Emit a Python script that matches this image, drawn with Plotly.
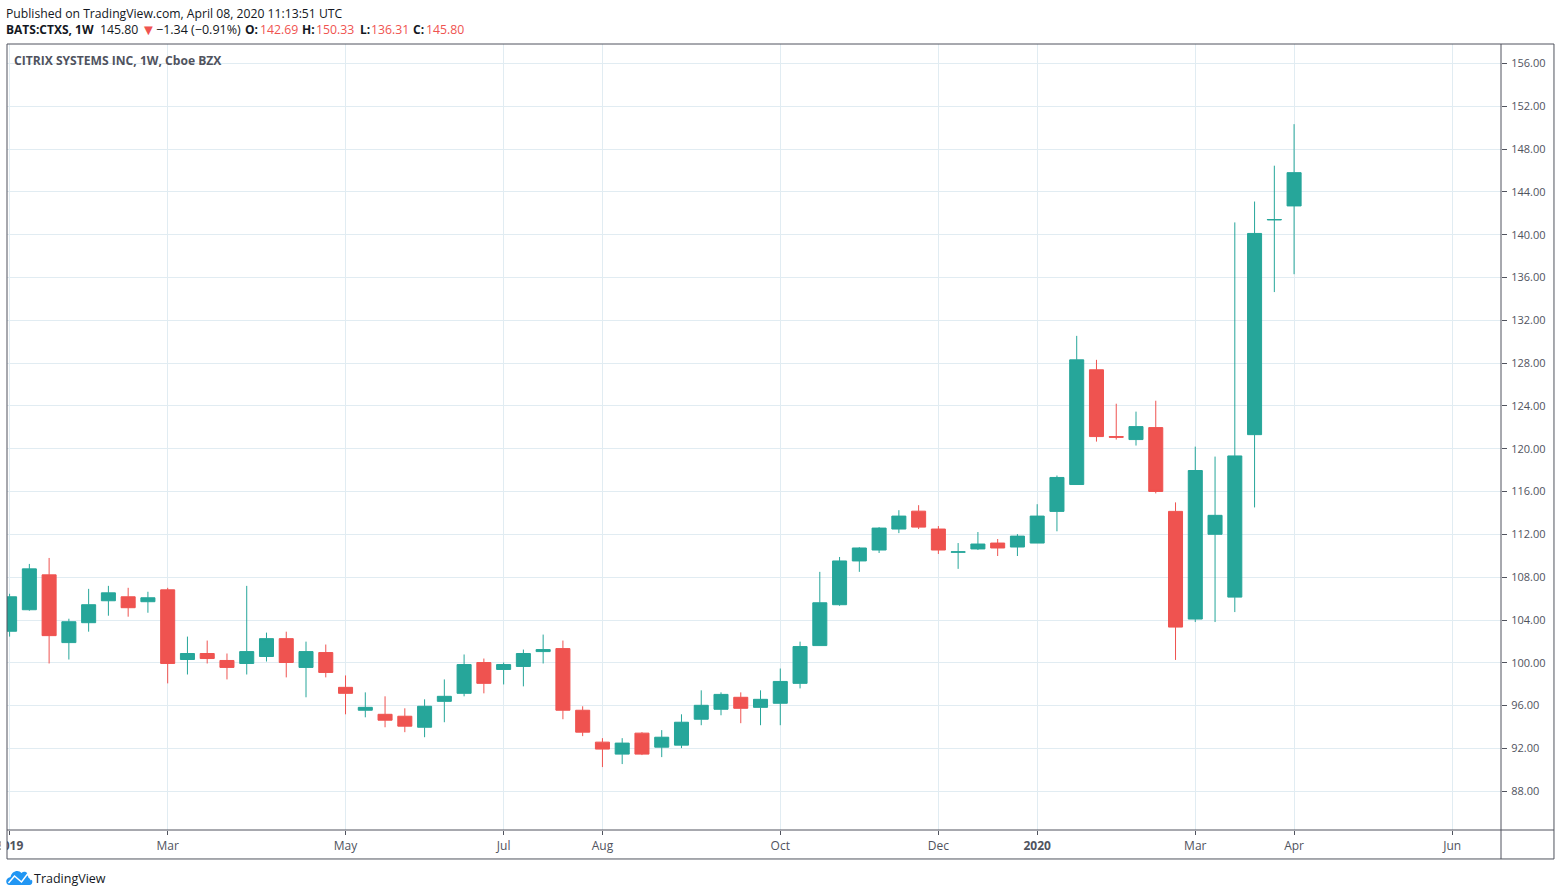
import pandas as pd
import plotly.graph_objects as go

# weekly CTXS candles
weeks = pd.date_range("2019-01-07", periods=66, freq="7D")
opens = [102.95, 104.96, 108.22, 101.89, 103.75, 105.80, 106.17, 105.71, 106.82, 100.31,
         100.87, 100.22, 99.94, 100.59, 102.26, 99.57, 100.96, 97.71, 95.57, 95.19,
         95.01, 93.98, 96.40, 97.15, 100.03, 99.38, 99.66, 101.05, 101.33, 95.57,
         92.59, 91.47, 93.43, 92.12, 92.31, 94.73, 95.66, 96.78, 95.84, 96.22,
         98.08, 101.61, 105.43, 109.52, 110.54, 112.50, 114.17, 112.50, 110.33, 110.64,
         111.19, 110.82, 111.19, 114.15, 116.66, 127.38, 121.14, 120.86, 121.98, 114.15,
         104.09, 112.01, 106.14, 121.32, 141.38, 142.69]
highs = [106.45, 109.24, 109.80, 104.12, 106.91, 107.19, 107.01, 106.64, 107.01, 102.45,
         102.08, 100.87, 107.19, 102.82, 102.91, 101.98, 101.71, 98.82, 97.24, 96.87,
         95.75, 96.59, 98.45, 100.78, 100.40, 100.03, 101.24, 102.64, 102.08, 95.94,
         92.96, 92.96, 93.52, 93.71, 95.19, 97.43, 97.24, 97.24, 97.43, 99.47,
         101.98, 108.50, 109.89, 110.80, 112.68, 114.26, 114.73, 112.78, 111.19, 112.22,
         111.57, 112.03, 114.82, 117.50, 130.55, 128.31, 124.21, 123.47, 124.49, 114.99,
         120.20, 119.27, 141.15, 143.10, 146.45, 150.33]
lows = [102.45, 104.87, 99.94, 100.31, 102.91, 104.40, 104.31, 104.68, 98.08, 98.91,
        99.94, 98.45, 98.91, 100.12, 98.64, 96.78, 98.64, 95.19, 94.91, 93.98,
        93.52, 93.05, 94.45, 96.87, 97.15, 97.98, 97.80, 99.94, 94.73, 93.15,
        90.26, 90.54, 91.38, 91.19, 92.03, 94.17, 95.10, 94.36, 94.17, 94.17,
        97.61, 101.61, 105.33, 108.50, 110.26, 112.12, 112.50, 110.17, 108.78, 110.54,
        109.98, 109.98, 111.19, 112.29, 116.66, 120.67, 120.86, 120.30, 115.83, 100.27,
        103.81, 103.81, 104.74, 114.52, 134.64, 136.31]
closes = [106.17, 108.78, 102.54, 103.84, 105.43, 106.54, 105.15, 106.08, 99.94, 100.87,
          100.40, 99.57, 101.05, 102.26, 100.03, 101.05, 99.10, 97.15, 95.84, 94.64,
          94.08, 95.94, 96.87, 99.84, 98.08, 99.84, 100.87, 101.24, 95.57, 93.52,
          91.94, 92.50, 91.47, 93.05, 94.45, 96.03, 97.05, 95.75, 96.59, 98.26,
          101.52, 105.61, 109.52, 110.73, 112.59, 113.71, 112.68, 110.54, 110.37, 111.10,
          110.73, 111.84, 113.71, 117.32, 128.31, 121.14, 121.08, 122.07, 116.01, 103.34,
          117.97, 113.78, 119.33, 140.12, 141.42, 145.80]

tick_dates = ["2019-01-07", "2019-03-04", "2019-05-06", "2019-07-01", "2019-08-05", "2019-10-07",
              "2019-12-02", "2020-01-06", "2020-03-02", "2020-04-06", "2020-06-01"]
tick_names = ["<b>2019</b>", "Mar", "May", "Jul", "Aug", "Oct", "Dec", "<b>2020</b>", "Mar", "Apr", "Jun"]
price_ticks = list(range(88, 157, 4))

W, H = 1560, 896
L, R, T, B = 6.5, 1501, 43.5, 830
GREEN = "#26a69a"
RED = "#ef5350"
FRAME = "#50535e"
GRID = "#e1ecf2"
INK = "#131722"
FONT = "Open Sans"


def px(x, y):
    # page pixels to paper coordinates
    return (x - L) / (R - L), 1 - (y - T) / (B - T)


def page_path(points):
    out = ""
    for cmd, coords in points:
        out += cmd
        out += " ".join("%.5f,%.5f" % px(*c) for c in coords) + " "
    return out


def line(x0, y0, x1, y1, color=FRAME, width=1):
    a, b = px(x0, y0), px(x1, y1)
    return dict(type="line", xref="paper", yref="paper", x0=a[0], y0=a[1], x1=b[0], y1=b[1],
                line=dict(color=color, width=width), layer="above")


def label(x, y, text, size=12, color=INK):
    a = px(x, y)
    return dict(xref="paper", yref="paper", x=a[0], y=a[1], text=text, showarrow=False,
                xanchor="left", yanchor="middle", align="left",
                font=dict(family=FONT, size=size, color=color))


fig = go.Figure(go.Candlestick(
    x=weeks, open=opens, high=highs, low=lows, close=closes,
    increasing=dict(line=dict(color=GREEN, width=1), fillcolor=GREEN),
    decreasing=dict(line=dict(color=RED, width=1), fillcolor=RED),
    whiskerwidth=0,
))

# white strip hides the cut off part of the first tick label, then the frame
c0, c1 = px(0, B + 1), px(L, 859)
shapes = [dict(type="rect", xref="paper", yref="paper", x0=c0[0], y0=c0[1], x1=c1[0], y1=c1[1],
               fillcolor="white", line=dict(width=0), layer="above")]
shapes += [line(L, 43.5, 1554, 43.5), line(L, 859, 1554, 859), line(L, 43.5, L, 859),
           line(1554, 43.5, 1554, 859), line(R, 43.5, R, 859), line(L, B, 1554, B)]

# TradingView cloud
shapes.append(dict(type="path", xref="paper", yref="paper", fillcolor="#2196f3", line=dict(width=0), layer="above",
                   path=page_path([("M", [(9, 885)]), ("C", [(5, 885), (4, 878), (10, 877)]),
                                   ("C", [(11, 871), (18, 869), (21, 873)]), ("C", [(24, 870), (29, 873), (28, 878)]),
                                   ("C", [(33, 878), (33, 885), (29, 885)])]) + "Z"))
shapes.append(dict(type="path", xref="paper", yref="paper", line=dict(color="white", width=1.5), layer="above",
                   path=page_path([("M", [(8, 883)]), ("L", [(14, 876)]), ("L", [(21, 882)]), ("L", [(27, 874)]),
                                   ("L", [(31, 880)])])))

# header pieces sit at their own spots, annotation padding eats 3px
annotations = [
    label(3, 13, "Published on TradingView.com, April 08, 2020 11:13:51 UTC", size=12.2),
    label(3, 29, "<b>BATS:CTXS, 1W</b>"),
    label(98, 29, "145.80", size=12.3),
    label(139, 28.5, "▼", size=15, color=RED),
    label(154, 29, "−1.34 (−0.91%)", size=12.5),
    label(243, 29, "<b>O:</b>"),
    label(258, 29, "142.69", size=12.3, color=RED),
    label(300, 29, "<b>H:</b>"),
    label(314, 29, "150.33", size=12.3, color=RED),
    label(358, 29, "<b>L:</b>"),
    label(369, 29, "136.31", size=12.3, color=RED),
    label(411, 29, "<b>C:</b>"),
    label(424, 29, "145.80", size=12.3, color=RED),
    label(12, 60, "<b>CITRIX SYSTEMS INC, 1W, Cboe BZX</b>", size=12.1, color=FRAME),
    label(32, 878.5, "TradingView", size=12.5),
]

fig.update_layout(
    width=W, height=H, showlegend=False,
    margin=dict(l=L, r=W - R, t=T, b=H - B, autoexpand=False),
    paper_bgcolor="white", plot_bgcolor="white",
    boxgap=0.29, boxgroupgap=0,
    shapes=shapes, annotations=annotations,
    font=dict(family=FONT, size=12, color=FRAME),
    xaxis=dict(type="date", range=["2019-01-06 02:00", "2020-06-18 07:00"], rangeslider=dict(visible=False),
               tickmode="array", tickvals=tick_dates, ticktext=tick_names, tickangle=0,
               ticklabeloverflow="allow", ticklabelstandoff=1,
               showgrid=True, gridcolor=GRID, gridwidth=1, zeroline=False, showline=False,
               ticks="outside", ticklen=4, tickcolor=FRAME, tickfont=dict(size=12, color=FRAME)),
    yaxis=dict(side="right", range=[84.38, 157.82], tickmode="array", tickvals=price_ticks,
               tickformat=".2f", showgrid=True, gridcolor=GRID, gridwidth=1, zeroline=False, showline=False,
               ticklabelstandoff=2,
               ticks="outside", ticklen=5, tickcolor=FRAME, tickfont=dict(size=11, color=FRAME)),
)

fig.write_html("out.html", config={"displayModeBar": False}, post_script="document.body.style.margin='0';")
